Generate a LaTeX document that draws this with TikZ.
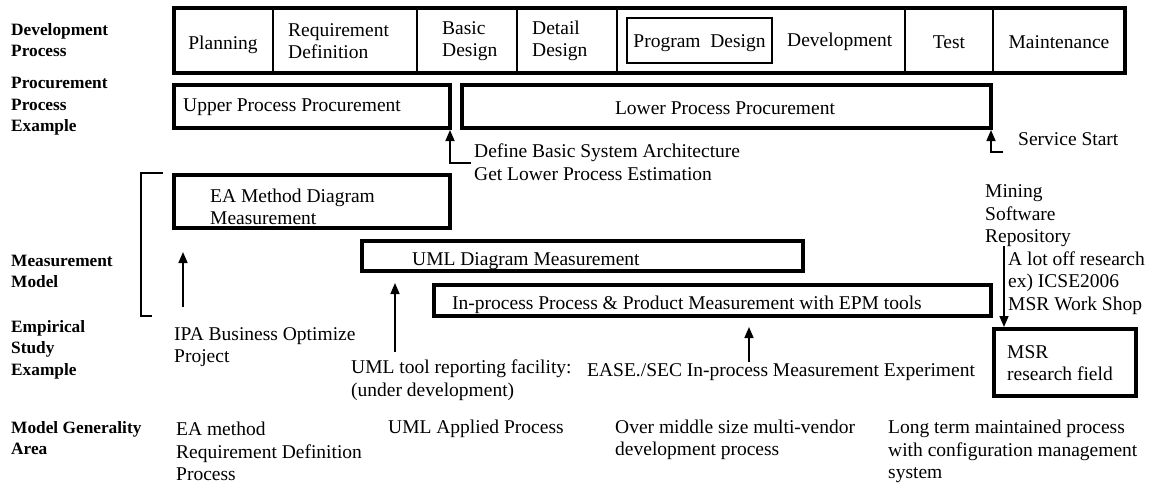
\documentclass[tikz,border=0pt]{standalone}
\usepackage{fontspec}
\setmainfont{Liberation Serif}
\usetikzlibrary{arrows.meta}
\newcommand\regf{\fontsize{19.5}{22.5}\selectfont}
\newcommand\lblf{\fontsize{17.3}{21.5}\selectfont\bfseries}
\tikzset{
  txt/.style={font=\regf, inner sep=0pt, anchor=west, align=left, yshift=-2pt},
  ctxt/.style={font=\regf, inner sep=0pt, anchor=center, align=center, yshift=-2pt},
  lbl/.style={font=\lblf, inner sep=0pt, anchor=west, align=left, yshift=-1pt},
  thickbox/.style={draw, line width=4pt, inner sep=0pt},
  divider/.style={line width=1.6pt},
  conn/.style={line width=1.6pt, -{Triangle[length=11pt,width=9pt]}},
  bracket/.style={line width=1.3pt},
}
\begin{document}
\begin{tikzpicture}[x=1pt,y=-1pt]
\useasboundingbox[fill=white] (0,0) rectangle (1162,485);

% left labels
\node[lbl] (l1) at (11,39) {Development\\Process};
\node[lbl] (l2) at (11,105.5) {Procurement\\Process\\Example};
\node[lbl] (l3) at (11,270.5) {Measurement\\Model};
\node[lbl] (l4) at (11,348.5) {Empirical\\Study\\Example};
\node[lbl] (l5) at (11,437) {Model Generality\\Area};

% development process box
\node[thickbox, minimum width=951, minimum height=65] (dev) at (649.5,40.5) {};
\foreach \xx in {273,417,517,617,905,993}
  \draw[divider] (\xx,8) -- (\xx,73);
\node[ctxt] (plan) at (223,43) {Planning};
\node[txt] (req) at (288,39) {Requirement\\Definition};
\node[txt] (bas) at (442,39) {Basic\\Design};
\node[txt] (det) at (532,39) {Detail\\Design};
\node[draw, line width=1.4pt, minimum width=145, minimum height=45, inner sep=0pt, text height=13.5pt, text depth=0pt, font=\regf] (pd) at (699.5,40.5) {Program\ \ Design};
\node[txt] (devp) at (787,40) {Development};
\node[ctxt] (test) at (949,40) {Test};
\node[ctxt] (maint) at (1059,40) {Maintenance};

% procurement
\node[thickbox, minimum width=276, minimum height=43] (upper) at (312,106.5) {};
\node[txt] (uppert) at (183,105) {Upper Process Procurement};
\node[thickbox, minimum width=529, minimum height=43] (lower) at (726.5,106.5) {};
\node[ctxt] (lowert) at (725,106) {Lower Process Procurement};

\node[txt] (defn) at (474,160) {Define Basic System Architecture\\Get Lower Process Estimation};
\coordinate (defL) at (471,163);
\coordinate (defC) at (450,163);
\draw[conn] (defL) -- (defC) -- (defC |- upper.south);

\node[txt] (svc) at (1018,137) {Service Start};
\coordinate (svcL) at (1003,152);
\coordinate (svcC) at (991,152);
\draw[conn] (svcL) -- (svcC) -- (svcC |- lower.south);

% measurement model bracket
\draw[bracket] (163,173) -- (141,173) -- (141,316) -- (152,316);

% measurement boxes
\node[thickbox, minimum width=276, minimum height=53] (ea) at (312,201.5) {};
\node[txt] (eat) at (210,205) {EA Method Diagram\\Measurement};
\node[thickbox, minimum width=441, minimum height=30] (uml) at (582.5,256) {};
\node[txt] (umlt) at (412,259) {UML Diagram Measurement};
\node[thickbox, minimum width=557, minimum height=31] (inp) at (712.5,300.5) {};
\node[txt] (inpt) at (452,303) {In-process Process \& Product Measurement with EPM tools};

% MSR
\node[txt] (mining) at (985,214) {Mining\\Software\\Repository};
\node[txt] (alot) at (1008,281) {A lot off research\\ex) ICSE2006\\MSR Work Shop};
\node[thickbox, minimum width=142, minimum height=67] (msr) at (1065,362.5) {};
\node[txt] (msrt) at (1007,361) {MSR\\research field};
\coordinate (msrS) at (1004,246);
\draw[conn] (msrS) -- (msrS |- msr.north);

% empirical study examples
\node[txt] (ipa) at (174,345) {IPA Business Optimize\\Project};
\coordinate (ipaS) at (183,307);
\coordinate (ipaT) at (183,252);
\draw[conn] (ipaS) -- (ipaT);

\node[txt] (umltool) at (351,378) {UML tool reporting facility:\\(under development)};
\coordinate (umlS) at (395,352);
\coordinate (umlT) at (395,283);
\draw[conn] (umlS) -- (umlT);

\node[txt] (ease) at (587,370) {EASE./SEC In-process Measurement Experiment};
\coordinate (easeS) at (749,362);
\coordinate (easeT) at (749,327);
\draw[conn] (easeS) -- (easeT);

% model generality area
\node[txt] (g1) at (176,449.5) {EA method\\Requirement Definition\\Process};
\node[txt] (g2) at (388,427) {UML Applied Process};
\node[txt] (g3) at (615,438) {Over middle size multi-vendor\\development process};
\node[txt] (g4) at (888,449.5) {Long term maintained process\\with configuration management\\system};
\end{tikzpicture}
\end{document}
